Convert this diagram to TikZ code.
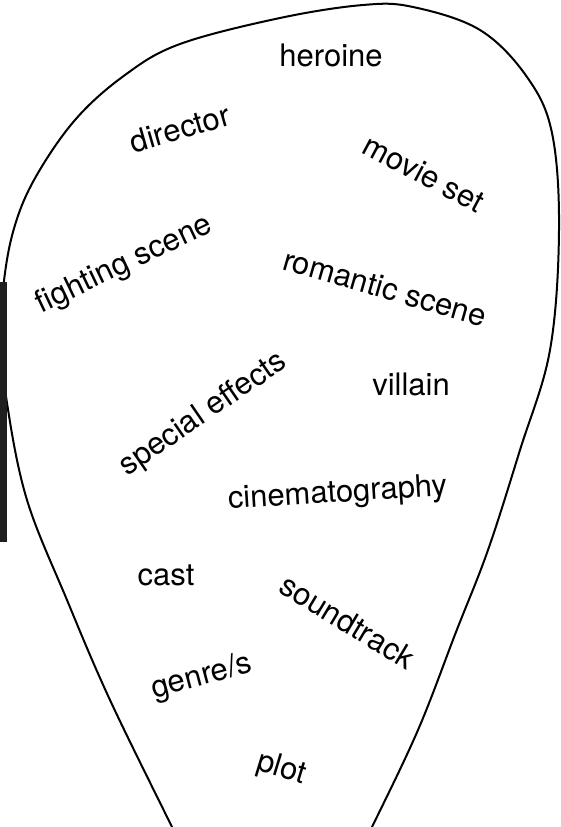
\documentclass[tikz,border=0pt]{standalone}
\usepackage{fontspec}
\setmainfont{TeX Gyre Heros}
\begin{document}
\begin{tikzpicture}[x=1pt,y=-1pt,
  lbl/.style={font=\fontsize{31}{37}\selectfont, anchor=base, inner sep=0pt},
  outline/.style={line width=2pt, line join=round}]
\useasboundingbox (0,0) rectangle (561,827);
\begin{scope}
\clip (0,0) rectangle (561,827);
\draw[outline] plot[smooth, tension=0.6] coordinates {(188,860) (172,827) (110,700) (67,600) (27,500) (7,403) (2,340) (3,290) (13,232) (34,180) (75,120) (125,75) (180,44) (280,18) (363,5) (413,7) (480,30) (527,77) (552,133) (559,230) (550,350) (520,450) (488,550) (456,632) (418,730) (372,827) (355,860)};
\end{scope}
\fill[black!88] (0,282) rectangle (7.3,542);
\node[lbl] (heroine) at (331,66) {heroine};
\node[lbl, rotate=16] (director) at (183,139) {director};
\node[lbl, rotate=-28] (movieset) at (419,183) {movie set};
\node[lbl, rotate=25.5] (fighting) at (128,272) {fighting scene};
\node[lbl, rotate=-16] (romantic) at (382,298) {romantic scene};
\node[lbl, rotate=34.5] (special) at (208,421) {special effects};
\node[lbl] (villain) at (411,395) {villain};
\node[lbl, rotate=3.6] (cinema) at (338,502) {cinematography};
\node[lbl] (cast) at (166,585) {cast};
\node[lbl, rotate=-31] (soundtrack) at (342,631) {soundtrack};
\node[lbl, rotate=15] (genre) at (204,685) {genre/s};
\node[lbl, rotate=-17] (plot) at (279,777) {plot};
\end{tikzpicture}
\end{document}
